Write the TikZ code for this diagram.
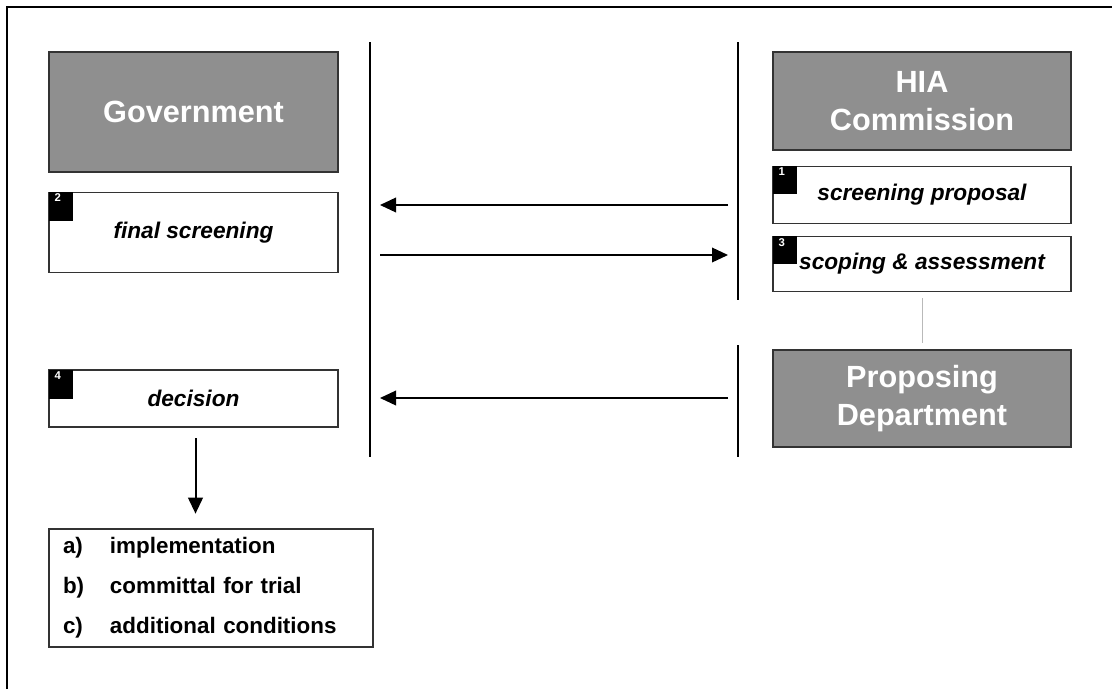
\documentclass[tikz,border=0pt]{standalone}
\usepackage{fontspec}
\setmainfont{Liberation Sans}
\usetikzlibrary{positioning,arrows.meta}
\definecolor{headgray}{HTML}{8F8F8F}
\definecolor{edgegray}{HTML}{333333}
\tikzstyle{head} = [rectangle,draw=black!80,line width=0.9pt,fill=headgray,text=white,align=center,font=\fontsize{23}{28.5}\selectfont\bfseries]
\tikzstyle{task} = [rectangle,draw=edgegray,line width=1pt,fill=white,align=center,font=\fontsize{17}{20}\selectfont\bfseries\itshape]
\tikzstyle{tag} = [rectangle,fill=black,inner sep=0pt,minimum width=18.5pt,minimum height=22pt,anchor=north west]
\tikzstyle{num} = [text=white,font=\fontsize{8.5}{9}\selectfont\bfseries,inner xsep=4.5pt,inner ysep=1.5pt,anchor=north west]
\tikzstyle{wall} = [line width=2.2pt]
\tikzstyle{flow} = [line width=1.1pt,-{Triangle[length=12pt,width=11pt]}]

\begin{document}
\begin{tikzpicture}[x=0.75pt,y=-0.75pt]
    	\useasboundingbox (0,0) rectangle (1112,689);
    	\draw[line width=1.5pt] (7,689) -- (7,7) -- (1112,7);
    	
    	% left column
    	\node[head,minimum width=216.75pt,minimum height=90pt](government) at (193.5,112) {Government};
    	
    	\node[task,minimum width=216.75pt,minimum height=60pt,below=14.25pt of government](final) {final screening};
    	\node[tag](tag2) at (final.north west) {};
    	\node[num] at (tag2.north west) {2};
    	
    	\node[task,minimum width=216.75pt,minimum height=42.75pt](decision) at (193.5,398.5) {decision};
    	\node[tag](tag4) at (decision.north west) {};
    	\node[num] at (tag4.north west) {4};
    	
    	\node[rectangle,draw=edgegray,line width=1pt,minimum width=243pt,minimum height=88.5pt,text width=222pt,inner xsep=10.5pt,align=left,font=\fontsize{16.8}{30}\selectfont\bfseries](outcomes) at (211,588)
    	{\makebox[35.25pt][l]{a)}implementation\\
    	 \makebox[35.25pt][l]{b)}committal for trial\\
    	 \makebox[35.25pt][l]{c)}additional conditions};
    	\draw[line width=1.5pt,-{Triangle[length=12pt,width=11pt]}] ([xshift=1.5pt,yshift=-8pt]decision.south) -- ([xshift=1.5pt,yshift=11pt]decision.south |- outcomes.north);
    	
    	% right column
    	\node[head,minimum width=223.5pt,minimum height=73.5pt](hia) at (922,101) {HIA\\Commission};
    	
    	\node[task,minimum width=223.5pt,minimum height=42.75pt,below=11.25pt of hia](proposal) {screening proposal};
    	\node[tag,minimum width=18pt,minimum height=21pt](tag1) at (proposal.north west) {};
    	\node[num] at (tag1.north west) {1};
    	
    	\node[task,minimum width=223.5pt,minimum height=41.25pt,below=9pt of proposal](scoping) {scoping \& assessment};
    	\node[tag,minimum width=18pt,minimum height=21pt](tag3) at (scoping.north west) {};
    	\node[num] at (tag3.north west) {3};
    	
    	\node[head,minimum width=223.5pt,minimum height=72.75pt](department) at (922,398.5) {Proposing\\Department};
    	\draw[gray!55,line width=0.75pt,shorten <=4.5pt,shorten >=5pt] (scoping) -- (department);
    	
    	% separators
    	\coordinate (lt) at (370,42);
    	\coordinate (lb) at (370,457);
    	\coordinate (rt) at (738,42);
    	\coordinate (rm) at (738,300);
    	\coordinate (rn) at (738,345);
    	\coordinate (rb) at (738,457);
    	\draw[wall] (lt) -- (lb);
    	\draw[wall] (rt) -- (rm);
    	\draw[wall] (rn) -- (rb);
    	
    	% messages
    	\coordinate (a1) at (728,205);
    	\coordinate (a2) at (380,205);
    	\coordinate (b1) at (380,255);
    	\coordinate (b2) at (728,255);
    	\coordinate (c1) at (728,398);
    	\coordinate (c2) at (380,398);
    	\draw[flow] (a1) -- (a2);
    	\draw[flow] (b1) -- (b2);
    	\draw[flow] (c1) -- (c2);
    	
\end{tikzpicture}
\end{document}
